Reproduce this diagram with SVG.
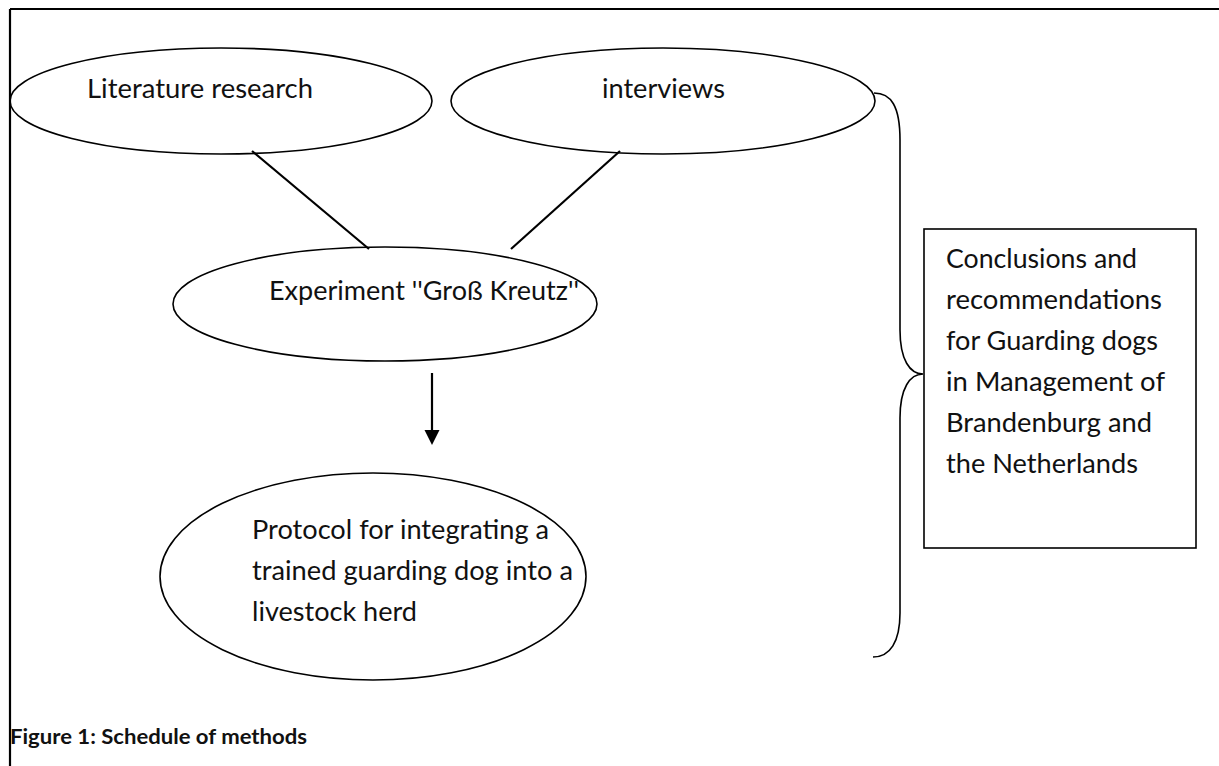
<svg xmlns="http://www.w3.org/2000/svg" width="1219" height="766" viewBox="0 0 1219 766">
<style>
.shape{fill:none;stroke:#000;stroke-width:1.6}
.frame{fill:none;stroke:#000;stroke-width:2.2}
.lbl{font-family:Lato,"Open Sans","Liberation Sans",sans-serif;font-size:26.5px;fill:#111}
.cap{font-family:Lato,"Open Sans","Liberation Sans",sans-serif;font-size:21px;font-weight:bold;fill:#111}
.conn{stroke:#000;stroke-width:2.2;fill:none}
</style>
<defs>
<marker id="ah" markerWidth="10" markerHeight="10" refX="5" refY="5" orient="auto" markerUnits="userSpaceOnUse"/>
</defs>
<rect width="1219" height="766" fill="#fff"/>
<g id="frame">
<path class="frame" d="M10,9 H1219 M10,9 V766"/>
</g>
<g id="connectors">
<line class="conn" x1="252" y1="151" x2="369" y2="249"/>
<line class="conn" x1="620" y1="151" x2="511" y2="249"/>
<line class="conn" x1="432" y1="373" x2="432" y2="432"/>
<polygon points="424.5,430 439.5,430 432,445" fill="#000"/>
<path class="shape" d="M874,93 C891,93 900,106 900,140 L900,330 C900,360 910,374 923,374 C910,374 900,388 900,418 L900,613 C900,642 890,657 873,657"/>
</g>
<g id="node-literature">
<ellipse class="shape" cx="221" cy="101" rx="211" ry="53"/>
<text class="lbl" x="87" y="98" textLength="226" lengthAdjust="spacingAndGlyphs">Literature research</text>
</g>
<g id="node-interviews">
<ellipse class="shape" cx="663" cy="101" rx="212" ry="53"/>
<text class="lbl" x="602" y="98" textLength="123" lengthAdjust="spacingAndGlyphs">interviews</text>
</g>
<g id="node-experiment">
<ellipse class="shape" cx="385" cy="304" rx="212" ry="57"/>
<text class="lbl" x="269" y="300" textLength="310" lengthAdjust="spacingAndGlyphs">Experiment ''Groß Kreutz''</text>
</g>
<g id="node-protocol">
<ellipse class="shape" cx="373" cy="576.5" rx="213" ry="103.5"/>
<text class="lbl" x="252" y="539" textLength="297" lengthAdjust="spacingAndGlyphs">Protocol for integrating a</text>
<text class="lbl" x="252" y="580" textLength="321" lengthAdjust="spacingAndGlyphs">trained guarding dog into a</text>
<text class="lbl" x="252" y="621" textLength="165" lengthAdjust="spacingAndGlyphs">livestock herd</text>
</g>
<g id="node-conclusions">
<rect class="shape" x="924" y="229" width="272" height="319"/>
<text class="lbl" x="946" y="268" textLength="191" lengthAdjust="spacingAndGlyphs">Conclusions and</text>
<text class="lbl" x="946" y="309" textLength="216" lengthAdjust="spacingAndGlyphs">recommendations</text>
<text class="lbl" x="946" y="350" textLength="212" lengthAdjust="spacingAndGlyphs">for Guarding dogs</text>
<text class="lbl" x="946" y="391" textLength="219" lengthAdjust="spacingAndGlyphs">in Management of</text>
<text class="lbl" x="946" y="432" textLength="206" lengthAdjust="spacingAndGlyphs">Brandenburg and</text>
<text class="lbl" x="946" y="473" textLength="192" lengthAdjust="spacingAndGlyphs">the Netherlands</text>
</g>
<g id="caption">
<text class="cap" x="10" y="744" textLength="297" lengthAdjust="spacingAndGlyphs">Figure 1: Schedule of methods</text>
</g>
</svg>
